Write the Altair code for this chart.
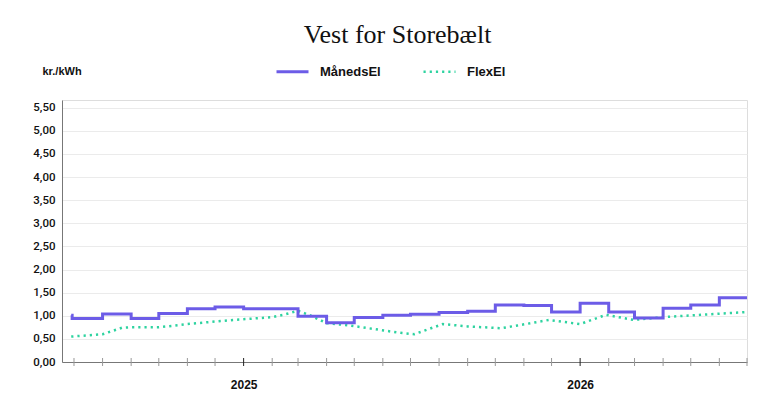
import altair as alt
import pandas as pd

# MånedsEl (monthly fixed price, step line)
man_dates = ["2024-06-28", "2024-06-29", "2024-08-01", "2024-09-01", "2024-10-01",
             "2024-11-01", "2024-12-01", "2025-01-01", "2025-02-01", "2025-03-01",
             "2025-04-01", "2025-05-01", "2025-06-01", "2025-07-01", "2025-08-01",
             "2025-09-01", "2025-10-01", "2025-11-01", "2025-12-01", "2026-01-01",
             "2026-02-01", "2026-03-01", "2026-04-01", "2026-05-01", "2026-06-01",
             "2026-07-01"]
man_values = [1.01, 0.94, 1.04, 0.94, 1.05, 1.15, 1.19, 1.15, 1.15, 0.99,
              0.85, 0.96, 1.01, 1.03, 1.07, 1.10, 1.23, 1.22, 1.08, 1.27,
              1.08, 0.95, 1.16, 1.23, 1.39, 1.39]

# FlexEl (variable price, dotted line)
flex_dates = ["2024-06-28", "2024-08-01", "2024-08-22", "2024-09-01", "2024-10-01",
              "2024-11-01", "2024-12-15", "2025-02-01", "2025-02-15", "2025-03-01",
              "2025-03-15", "2025-04-01", "2025-04-26", "2025-06-20", "2025-07-05",
              "2025-08-05", "2025-09-01", "2025-10-07", "2025-10-25", "2025-11-20",
              "2025-11-28", "2026-01-01", "2026-01-29", "2026-02-28", "2026-04-01",
              "2026-07-01"]
flex_values = [0.55, 0.60, 0.74, 0.75, 0.75, 0.82, 0.90, 0.97, 1.03, 1.11,
               1.00, 0.84, 0.79, 0.63, 0.60, 0.82, 0.77, 0.73, 0.79, 0.88,
               0.91, 0.82, 1.02, 0.91, 0.97, 1.08]

series_names = ["MånedsEl", "FlexEl"]
series_colors = ["#6C5CE7", "#2ED3A0"]
y_ticks = [0, 0.5, 1.0, 1.5, 2.0, 2.5, 3.0, 3.5, 4.0, 4.5, 5.0, 5.5]

man_df = pd.DataFrame({"date": pd.to_datetime(man_dates), "value": man_values,
                       "series": "MånedsEl"})
flex_df = pd.DataFrame({"date": pd.to_datetime(flex_dates), "value": flex_values,
                        "series": "FlexEl"})
tick_df = pd.DataFrame({"date": pd.date_range("2024-07-01", "2026-07-01", freq="MS")})

FONT = "Liberation Sans"
W, H = 685, 262

x_scale = alt.Scale(domain=[alt.DateTime(year=2024, month=6, date=18),
                            alt.DateTime(year=2026, month=7, date=1)])
x_axis = alt.Axis(values=[alt.DateTime(year=2025, month=1, date=1),
                          alt.DateTime(year=2026, month=1, date=1)],
                  format="%Y", ticks=False, grid=False, domainColor="#777777",
                  labelPadding=17, labelFontSize=12, labelFontWeight="bold",
                  labelColor="#111111", labelFont=FONT, title=None)
y_scale = alt.Scale(domain=[0, 5.666], nice=False)
y_axis = alt.Axis(values=y_ticks,
                  labelExpr="replace(format(datum.value, '.2f'), '.', ',')",
                  ticks=False, domainColor="#777777", gridColor="#ebebeb",
                  labelPadding=7, labelFontSize=11.5, labelFontWeight=500,
                  labelColor="#111111", labelFont="Roboto",
                  title="kr./kWh", titleAngle=0, titleAlign="left",
                  titleBaseline="middle", titleX=-20, titleY=-29,
                  titleFontSize=11, titleFontWeight="bold", titleFont=FONT,
                  titleColor="#111111")

X = alt.X("date:T", scale=x_scale, axis=x_axis)
Y = alt.Y("value:Q", scale=y_scale, axis=y_axis)

legend = alt.Legend(title=None, orient="none", direction="horizontal",
                    legendX=213, legendY=-46, symbolType="stroke",
                    symbolSize=1024, labelFontSize=13, labelFontWeight="bold",
                    labelFont=FONT, labelColor="#111111", labelOffset=10,
                    columnPadding=37)
color = alt.Color("series:N", scale=alt.Scale(domain=series_names, range=series_colors),
                  legend=legend)
dash = alt.StrokeDash("series:N", scale=alt.Scale(domain=series_names,
                                                  range=[[1, 0], [2.2, 4]]),
                      legend=legend)
width = alt.StrokeWidth("series:N", scale=alt.Scale(domain=series_names,
                                                    range=[3, 2.5]),
                        legend=legend)

man_line = alt.Chart(man_df).mark_line(interpolate="step-after").encode(
    x=X, y=Y, color=color, strokeDash=dash, strokeWidth=width)
flex_line = alt.Chart(flex_df).mark_line().encode(
    x=X, y=Y, color=color, strokeDash=dash, strokeWidth=width)
ticks = alt.Chart(tick_df).mark_rule(strokeWidth=1).encode(
    x=X, y=alt.value(H - 4), y2=alt.value(H + 4),
    color=alt.condition("month(datum.date) == 0", alt.value("#222222"),
                        alt.value("#999999")))

chart = alt.layer(ticks, flex_line, man_line).properties(
    width=W, height=H,
    title=alt.TitleParams("Vest for Storebælt", font="Liberation Serif",
                          fontSize=26, fontWeight="normal", anchor="middle",
                          dx=-7, color="#111111", offset=6),
    padding={"left": 54, "top": 92, "right": 27, "bottom": 35},
    autosize="none",
).configure_view(stroke=None).configure(background="white")

chart.save("out.html", embed_options={"renderer": "svg", "actions": False})
